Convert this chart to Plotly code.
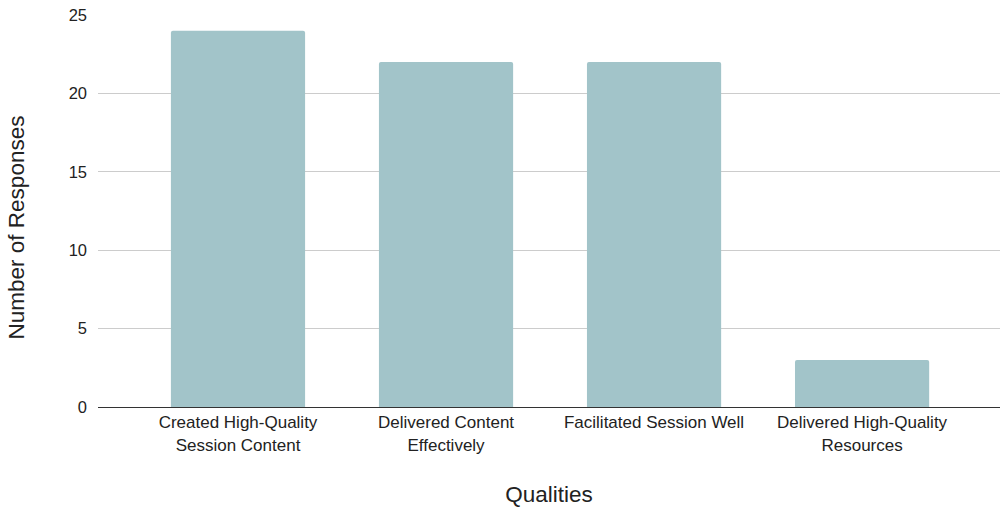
import plotly.graph_objects as go

categories = [
    "Created High-Quality<br>Session Content",
    "Delivered Content<br>Effectively",
    "Facilitated Session Well",
    "Delivered High-Quality<br>Resources",
]
responses = [24, 22, 22, 3]
y_ticks = [0, 5, 10, 15, 20, 25]

fig = go.Figure(
    go.Bar(
        x=list(range(len(categories))),
        y=responses,
        marker=dict(color="#a2c4c9", line=dict(width=0)),
        width=0.645,
    )
)

fig.update_layout(
    width=1003,
    height=508,
    margin=dict(l=98, r=3, t=15, b=101),
    paper_bgcolor="white",
    plot_bgcolor="white",
    font=dict(family="Liberation Sans, Arial, sans-serif", color="#222222"),
    showlegend=False,
    barcornerradius=2,
)

fig.update_xaxes(
    tickmode="array",
    tickvals=list(range(len(categories))),
    ticktext=categories,
    range=[-0.673, 3.663],
    tickfont=dict(size=17),
    showgrid=False,
    showline=True,
    linecolor="#333333",
    linewidth=1,
    ticks="",
    title=dict(text="Qualities", font=dict(size=22.5), standoff=32),
)

fig.update_yaxes(
    range=[0, 25],
    tickvals=y_ticks,
    tickfont=dict(size=16.5),
    showgrid=True,
    gridcolor="#cccccc",
    gridwidth=1,
    zeroline=True,
    zerolinecolor="#333333",
    zerolinewidth=1,
    ticks="",
    ticklabelstandoff=10,
)

# Vertical axis title, centred over the plot plus its category labels
fig.add_annotation(
    text="Number of Responses",
    textangle=-90,
    xref="paper", yref="paper",
    x=-0.0905, y=0.459,
    xanchor="center", yanchor="middle",
    showarrow=False,
    font=dict(size=22.5),
)

fig.write_html("out.html")
